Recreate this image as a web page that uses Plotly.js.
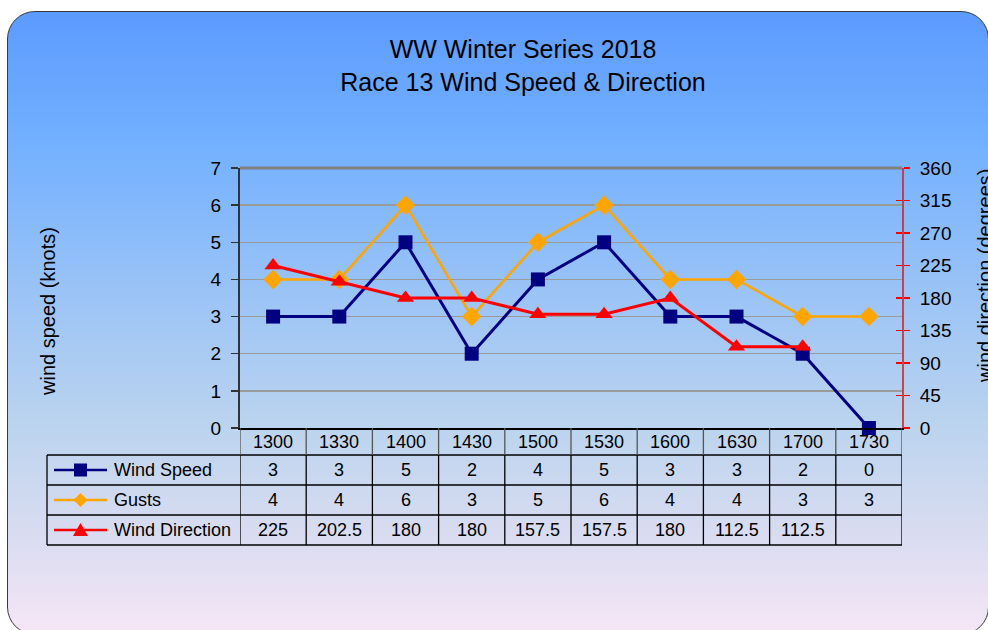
<!DOCTYPE html>
<html>
<head>
<meta charset="utf-8">
<script src="https://cdn.plot.ly/plotly-3.0.1.min.js"></script>
<style>
  html, body { margin:0; padding:0; background:#ffffff; width:988px; height:630px; overflow:hidden; }
  #frame { position:absolute; left:7px; top:11px; width:982px; height:624px; box-sizing:border-box;
    border:1px solid #3a3a3a; border-radius:28px;
    background: linear-gradient(to bottom, #5c9bff 0%, #62a1ff 6%, #74b1ff 22%, #9cc4f6 46%, #bcd4ee 67%, #e0def2 88%, #f6e7f6 100%); }
  #chart { position:absolute; left:0; top:0; width:988px; height:630px; }
</style>
</head>
<body>
<div id="frame"></div>
<div id="chart"></div>
<script>
// ---- data ----
const times = ['1300','1330','1400','1430','1500','1530','1600','1630','1700','1730'];
const windSpeed = [3, 3, 5, 2, 4, 5, 3, 3, 2, 0];
const gusts = [4, 4, 6, 3, 5, 6, 4, 4, 3, 3];
const windDirection = [225, 202.5, 180, 180, 157.5, 157.5, 180, 112.5, 112.5, null];
const seriesNames = ['Wind Speed', 'Gusts', 'Wind Direction'];

const FONT = 'Liberation Sans, Arial, sans-serif';
const NAVY = '#000080', ORANGE = '#FFA500', RED = '#FF0000';

// pixel helpers for the plot box (margins l=240, r=86, t=168, b=202)
const PL = 240, PR = 902, PT = 168, PB = 428;
const px = v => (v - PL) / (PR - PL);
const py = v => (PB - v) / (PB - PT);

const traces = [
  { x: times, y: windSpeed, name: seriesNames[0], type: 'scatter', mode: 'lines+markers', yaxis: 'y',
    line: { color: NAVY, width: 3 }, marker: { symbol: 'square', size: 14, color: NAVY }, cliponaxis: false },
  { x: times, y: gusts, name: seriesNames[1], type: 'scatter', mode: 'lines+markers', yaxis: 'y',
    line: { color: ORANGE, width: 2.5 }, marker: { symbol: 'diamond', size: 15, color: ORANGE }, cliponaxis: false },
  { x: times, y: windDirection, name: seriesNames[2], type: 'scatter', mode: 'lines+markers', yaxis: 'y2',
    line: { color: RED, width: 3 }, marker: { symbol: 'triangle-up', size: 15, color: RED }, cliponaxis: false }
];

// ---- table (shapes + annotations) ----
const shapes = [];
const annotations = [];
const rowLines = [455, 485, 515, 545];
const rowCenters = [470, 500, 530];
const headerCenter = 441.5;

// plot top border
shapes.push({ type:'line', xref:'paper', yref:'paper', x0:0, x1:1, y0:1, y1:1, line:{ color:'#808080', width:3 } });
// horizontal table lines
rowLines.forEach(y => shapes.push({ type:'line', xref:'paper', yref:'paper', x0:px(47), x1:1, y0:py(y), y1:py(y), line:{ color:'#000', width:1.3 } }));
// left border of legend column
shapes.push({ type:'line', xref:'paper', yref:'paper', x0:px(47), x1:px(47), y0:py(455), y1:py(545), line:{ color:'#000', width:1.3 } });
// category column borders
for (let i = 0; i <= times.length; i++) {
  shapes.push({ type:'line', xref:'x', yref:'paper', x0:i-0.5, x1:i-0.5, y0:py(428), y1:py(455), line:{ color:'#555', width:1.3 } });
  shapes.push({ type:'line', xref:'x', yref:'paper', x0:i-0.5, x1:i-0.5, y0:py(455), y1:py(545), line:{ color:'#000', width:1.3 } });
}

// legend keys
const keyColors = [NAVY, ORANGE, RED];
rowCenters.forEach((yc, k) => {
  shapes.push({ type:'line', xref:'paper', yref:'paper', x0:px(54), x1:px(107), y0:py(yc), y1:py(yc), line:{ color:keyColors[k], width:2.5 } });
});
// square
shapes.push({ type:'rect', xref:'paper', yref:'paper', x0:px(74), x1:px(87), y0:py(rowCenters[0]+6.5), y1:py(rowCenters[0]-6.5), fillcolor:NAVY, line:{ width:0 } });
// diamond
(function(){ const c=80.5, y=rowCenters[1];
  shapes.push({ type:'path', xref:'paper', yref:'paper', fillcolor:ORANGE, line:{ width:0 },
    path:`M ${px(c-7)} ${py(y)} L ${px(c)} ${py(y-7)} L ${px(c+7)} ${py(y)} L ${px(c)} ${py(y+7)} Z` });
})();
// triangle
(function(){ const c=80.5, y=rowCenters[2];
  shapes.push({ type:'path', xref:'paper', yref:'paper', fillcolor:RED, line:{ width:0 },
    path:`M ${px(c-7.5)} ${py(y+6)} L ${px(c)} ${py(y-7)} L ${px(c+7.5)} ${py(y+6)} Z` });
})();

// legend labels
seriesNames.forEach((n, k) => annotations.push({ text:n, xref:'paper', yref:'paper', x:px(112), y:py(rowCenters[k]),
  xanchor:'left', yanchor:'middle', showarrow:false, font:{ family:FONT, size:18, color:'#000' } }));

// header row (category labels)
times.forEach((t, i) => annotations.push({ text:t, xref:'x', yref:'paper', x:i, y:py(headerCenter),
  xanchor:'center', yanchor:'middle', showarrow:false, font:{ family:FONT, size:18, color:'#000' } }));

// cell values
const rows = [windSpeed, gusts, windDirection];
rows.forEach((vals, k) => vals.forEach((v, i) => {
  if (v === null) return;
  annotations.push({ text:String(v), xref:'x', yref:'paper', x:i, y:py(rowCenters[k]),
    xanchor:'center', yanchor:'middle', showarrow:false, font:{ family:FONT, size:18, color:'#000' } });
}));

// axis titles
annotations.push({ text:'wind speed (knots)', xref:'paper', yref:'paper', x:px(48), y:py(311), textangle:-90,
  xanchor:'center', yanchor:'middle', showarrow:false, font:{ family:FONT, size:20, color:'#000' } });
annotations.push({ text:'wind direction (degrees)', xref:'paper', yref:'paper', x:px(985), y:py(276), textangle:-90,
  xanchor:'center', yanchor:'middle', showarrow:false, font:{ family:FONT, size:20, color:'#000' } });

const layout = {
  width: 988, height: 630,
  margin: { l: PL, r: 988 - PR, t: PT, b: 630 - PB },
  paper_bgcolor: 'rgba(0,0,0,0)', plot_bgcolor: 'rgba(0,0,0,0)',
  showlegend: false,
  title: { text: 'WW Winter Series 2018<br>Race 13 Wind Speed & Direction', xref:'container', yref:'container',
    x: 523/988, xanchor:'center', y: 1 - 58/630, yanchor:'top', font: { family: FONT, size: 25, color: '#000' } },
  xaxis: { type:'category', range:[-0.5, 9.5], showgrid:false, zeroline:false, showline:true, linecolor:'#000', linewidth:2,
    ticks:'', showticklabels:false, fixedrange:true },
  yaxis: { range:[0, 7], dtick:1, showgrid:true, gridcolor:'#9a9a9a', gridwidth:1.3, zeroline:false,
    showline:true, linecolor:'#333', linewidth:2, ticks:'outside', ticklen:7, tickcolor:'#333', tickwidth:1.3,
    ticklabelstandoff:6, tickfont:{ family:FONT, size:19, color:'#000' } },
  yaxis2: { range:[0, 360], dtick:45, overlaying:'y', side:'right', showgrid:false, zeroline:false,
    showline:true, linecolor:'rgba(215,40,40,0.85)', linewidth:2, ticks:'outside', ticklen:6, tickcolor:RED, tickwidth:1.3,
    ticklabelstandoff:6, tickfont:{ family:FONT, size:19, color:'#000' } },
  yaxis3: { range:[0, 360], dtick:45, overlaying:'y', side:'right', showgrid:false, zeroline:false, showline:false,
    ticks:'inside', ticklen:6, tickcolor:RED, tickwidth:1.3, showticklabels:false },
  shapes: shapes,
  annotations: annotations
};

// an invisible trace so yaxis3 (inner tick marks) is drawn
traces.unshift({ x:[times[0]], y:[0], yaxis:'y3', type:'scatter', mode:'markers', marker:{ opacity:0 }, hoverinfo:'skip', showlegend:false });

Plotly.newPlot('chart', traces, layout, { staticPlot: true, displayModeBar: false });
</script>
</body>
</html>
